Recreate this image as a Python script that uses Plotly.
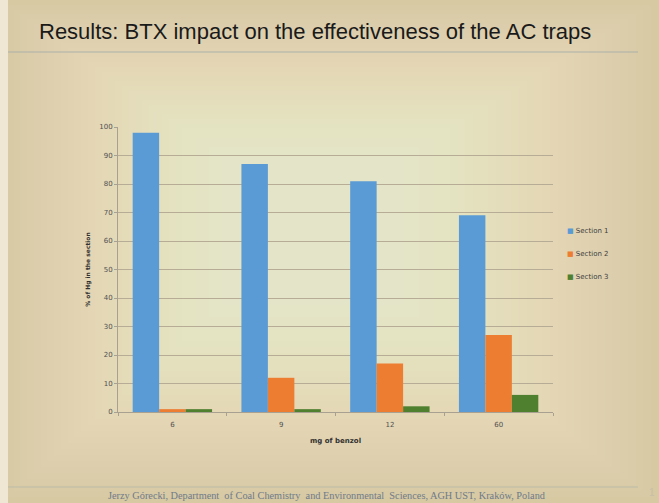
import plotly.graph_objects as go

categories = ["6", "9", "12", "60"]
section1 = [98, 87, 81, 69]
section2 = [1, 12, 17, 27]
section3 = [1, 1, 2, 6]
series_names = ["Section 1", "Section 2", "Section 3"]
colors = ["#5b9bd5", "#ed7d31", "#4f8030"]

W, H = 659, 503
L, R, T, B = 118, 106, 127, 91
PW, PH = W - L - R, H - T - B


def px(x):
    return (x - L) / PW


def py(y):
    return (H - B - y) / PH


fig = go.Figure()
for name, vals, c in zip(series_names, [section1, section2, section3], colors):
    fig.add_trace(go.Bar(x=categories, y=vals, name=name, showlegend=False,
                         marker=dict(color=c, line=dict(width=0))))

shapes = []
# background glow approximation (stacked translucent rectangles)
n = 40
for i in range(n):
    f = i / n
    shapes.append(dict(type="rect", xref="paper", yref="paper",
                       x0=px(0 + f * 270), x1=px(W - f * 310),
                       y0=py(H - f * 240), y1=py(0 + f * 190),
                       fillcolor="#fbf3da", opacity=0.036, line=dict(width=0), layer="below"))
# left light strip
shapes.append(dict(type="rect", xref="paper", yref="paper",
                   x0=px(0), x1=px(8), y0=py(H), y1=py(0),
                   fillcolor="#efe7d3", line=dict(width=0), layer="below"))
# title rule
shapes.append(dict(type="line", xref="paper", yref="paper",
                   x0=px(8), x1=px(638), y0=py(52), y1=py(52),
                   line=dict(color="#a9b0a8", width=1.2)))
# footer rule
shapes.append(dict(type="line", xref="paper", yref="paper",
                   x0=px(8), x1=px(638), y0=py(487), y1=py(487),
                   line=dict(color="#bdbba8", width=1)))

annotations = [
    dict(text="Results: BTX impact on the effectiveness of the AC traps", xref="paper", yref="paper",
         x=px(37), y=py(31), xanchor="left", yanchor="middle", showarrow=False,
         font=dict(family="Liberation Sans, Arial", size=22, color="#1a1a1a")),
    dict(text="Jerzy Górecki, Department  of Coal Chemistry  and Environmental  Sciences, AGH UST, Kraków, Poland",
         xref="paper", yref="paper", x=px(327), y=py(495), xanchor="center", yanchor="middle",
         showarrow=False, font=dict(family="Liberation Serif, Times New Roman", size=10.3, color="#6f7a8a")),
    dict(text="1", xref="paper", yref="paper", x=px(652), y=py(492), xanchor="center",
         yanchor="middle", showarrow=False, font=dict(family="Liberation Sans", size=10, color="#c8c0a8")),
]
# legend entries
for k, (name, c) in enumerate(zip(series_names, colors)):
    annotations.append(dict(
        text=f"<span style='color:{c}'>■</span> {name}", xref="paper", yref="paper",
        x=px(565), y=py(231 + 23 * k), xanchor="left", yanchor="middle", showarrow=False,
        font=dict(family="DejaVu Sans", size=7, color="#404040")))

fig.update_layout(
    width=W, height=H,
    margin=dict(l=L, r=R, t=T, b=B),
    paper_bgcolor="#d6c8a0",
    plot_bgcolor="rgba(0,0,0,0)",
    bargap=0.27, bargroupgap=0,
    barmode="group",
    shapes=shapes,
    annotations=annotations,
    font=dict(family="DejaVu Sans", size=7, color="#505050"),
    showlegend=False,
)
fig.update_xaxes(showline=True, linecolor="#a8a090", linewidth=1, ticks="outside", ticklen=3,
                 tickcolor="#a8a090", tickson="boundaries", showgrid=False, ticklabelstandoff=6,
                 title=dict(text="<b>mg of benzol</b>", font=dict(size=7, color="#303030"), standoff=9),
                 tickfont=dict(size=7, color="#505050"))
fig.update_yaxes(range=[0, 100], dtick=10, showgrid=True, gridcolor="#b7ad96", gridwidth=1,
                 showline=True, linecolor="#a8a090", ticks="outside", ticklen=3, tickcolor="#a8a090",
                 zeroline=False, tickfont=dict(size=7, color="#505050"),
                 title=dict(text="<b>% of Hg in the section</b>", font=dict(size=6, color="#303030"), standoff=8))

fig.write_html("out.html")
